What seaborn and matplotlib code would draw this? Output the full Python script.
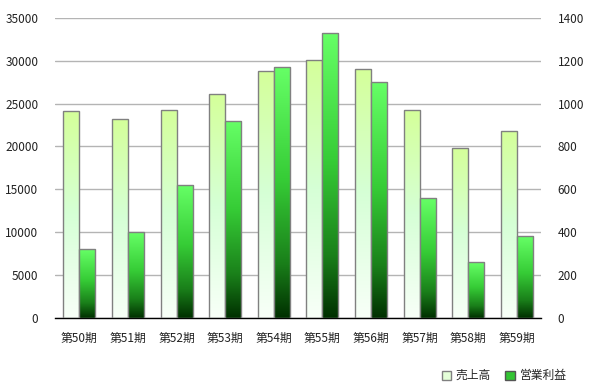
import matplotlib
matplotlib.use("Agg")
import matplotlib.pyplot as plt
from matplotlib.colors import LinearSegmentedColormap
from matplotlib.patches import Patch
import seaborn as sns
import pandas as pd
import numpy as np

# data
periods = ["第50期", "第51期", "第52期", "第53期", "第54期",
           "第55期", "第56期", "第57期", "第58期", "第59期"]
sales = [24100, 23200, 24300, 26100, 28800, 30100, 29000, 24200, 19800, 21800]
profit = [320, 400, 620, 920, 1170, 1330, 1100, 560, 260, 380]
series_names = ["売上高", "営業利益"]

sns.set_style("white")
plt.rcParams['font.family'] = ['Noto Sans CJK JP', 'DejaVu Sans']

df = pd.DataFrame({
    "period": periods * 2,
    "series": [series_names[0]] * len(periods) + [series_names[1]] * len(periods),
    "sales": sales + [np.nan] * len(periods),
    "profit": [np.nan] * len(periods) + profit,
})

light_cmap = LinearSegmentedColormap.from_list(
    "light", [(0, "#f8fff8"), (0.5, "#d6ffd6"), (1, "#d4ff9a")])
dark_cmap = LinearSegmentedColormap.from_list(
    "dark", [(0, "#003000"), (0.22, "#1a801a"), (0.55, "#36cc36"), (1, "#66ff66")])

fig = plt.figure(figsize=(5.92, 3.89), dpi=100)
ax = fig.add_axes([0.093, 0.183, 0.821, 0.771])
ax2 = ax.twinx()

sns.barplot(data=df, x="period", y="sales", hue="series", hue_order=series_names,
            width=0.66, ax=ax, legend=False, errorbar=None)
sns.barplot(data=df, x="period", y="profit", hue="series", hue_order=series_names,
            width=0.66, ax=ax2, legend=False, errorbar=None)

grad = np.linspace(0, 1, 256).reshape(-1, 1)


def paint(axis, cmap):
    # swap the flat fill for a vertical gradient clipped to each bar
    for p in list(axis.patches):
        h = p.get_height()
        if not np.isfinite(h) or h <= 0:
            continue
        x0 = p.get_x()
        w = p.get_width()
        p.set_facecolor("none")
        p.set_edgecolor("#808080")
        p.set_linewidth(1.0)
        p.set_zorder(3)
        im = axis.imshow(grad, cmap=cmap, origin="lower", aspect="auto",
                         extent=[x0, x0 + w, 0, h], zorder=2)
        im.set_clip_path(p)


paint(ax, light_cmap)
paint(ax2, dark_cmap)
ax.set_xlim(-0.5, len(periods) - 0.5)
ax.set_ylim(0, 35000)
ax2.set_ylim(0, 1400)

ax.set_yticks(range(0, 35001, 5000))
ax2.set_yticks(range(0, 1401, 200))
ax.yaxis.grid(True, color="#b4b4b4", linewidth=1)
ax.set_axisbelow(True)
ax.set_xlabel("")
ax.set_ylabel("")
ax2.set_ylabel("")

for a in (ax, ax2):
    for s in ["top", "left", "right"]:
        a.spines[s].set_visible(False)
ax2.spines["bottom"].set_visible(False)
ax.spines["bottom"].set_color("black")
ax.spines["bottom"].set_linewidth(1)

ax.tick_params(axis="y", length=0, labelsize=8.5, pad=12, colors="#222222")
ax2.tick_params(axis="y", length=0, labelsize=8.5, pad=12, colors="#222222")
ax.tick_params(axis="x", which="major", length=0, labelsize=8.5, pad=10, colors="#222222")
ax.set_xticks(np.arange(-0.5, len(periods), 1.0), minor=True)
ax.tick_params(axis="x", which="minor", direction="in", length=4, color="black")

handles = [Patch(facecolor="#e4ffd8", edgecolor="#808080", label=series_names[0]),
           Patch(facecolor="#33c433", edgecolor="#555555", label=series_names[1])]
fig.legend(handles=handles, loc="lower right", bbox_to_anchor=(0.975, -0.01),
           ncol=2, frameon=False, fontsize=8.5, handlelength=0.8, handleheight=0.8,
           handletextpad=0.4, columnspacing=1.2)

fig.savefig("out.png", dpi=100)
